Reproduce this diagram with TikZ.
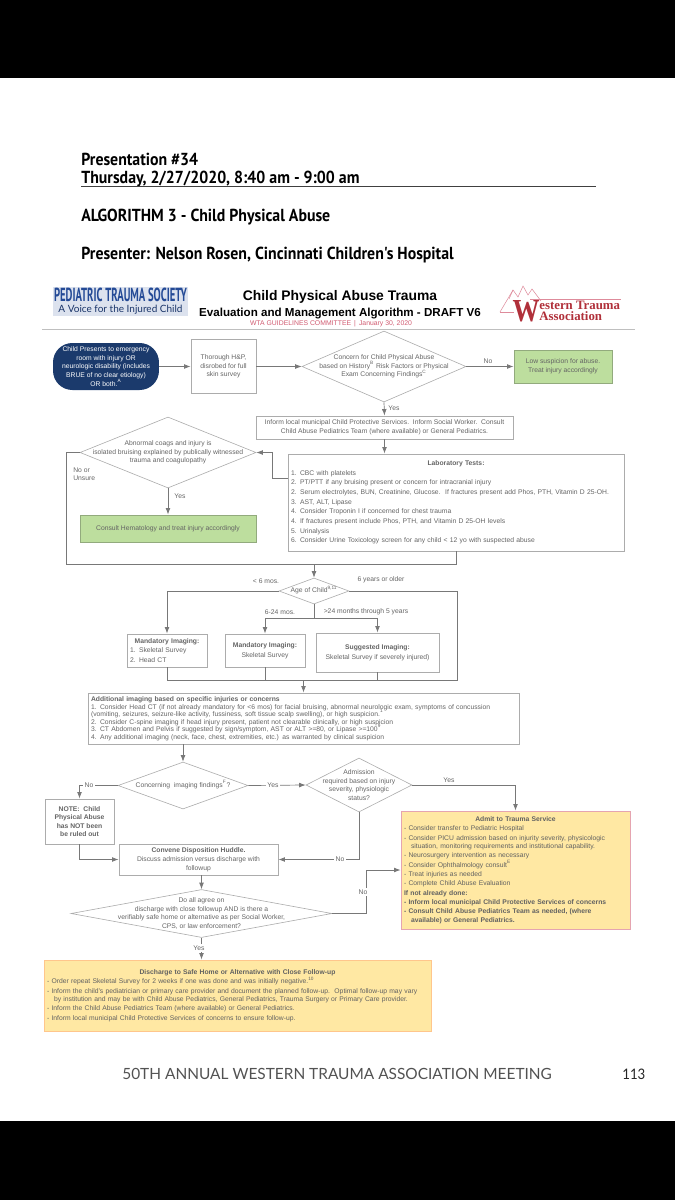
\documentclass[tikz,border=0pt]{standalone}
\usepackage{fontspec}
\setmainfont{Liberation Sans}
\newfontfamily\headfont[FakeStretch=0.91]{PT Sans}
\newfontfamily\footfont{Lato}
\newfontfamily\serieffont{Liberation Serif}
\usetikzlibrary{arrows.meta,shapes.geometric,shadows}
\definecolor{linegray}{RGB}{120,120,120}
\definecolor{framegray}{RGB}{172,172,172}
\definecolor{inkgray}{RGB}{100,100,100}
\definecolor{navyfill}{RGB}{27,58,108}
\definecolor{leaffill}{RGB}{189,222,158}
\definecolor{leafline}{RGB}{146,170,125}
\definecolor{sandfill}{RGB}{255,232,163}
\definecolor{wtared}{RGB}{176,48,58}
\definecolor{wtapink}{RGB}{208,90,112}
\definecolor{ptsblue}{RGB}{36,74,150}
\newcommand{\notemark}[1]{\smash{\textsuperscript{#1}}}
\tikzset{
  boxgray/.style={draw=framegray, line width=0.5pt, inner sep=0pt, text=inkgray, align=center},
  leftbox/.style={boxgray, align=left, inner xsep=0.06cm},
  diagray/.style={draw=framegray, line width=0.35pt, shape=diamond, inner sep=0pt},
  txtgray/.style={text=inkgray, inner sep=0pt, align=center},
  small/.style={font=\fontsize{3.85}{4.7}\selectfont},
  flag/.style={txtgray, font=\fontsize{3.85}{4.4}\selectfont},
  flagcut/.style={flag, fill=white, inner xsep=1pt, inner ysep=1pt},
  wire/.style={draw=linegray, line width=0.4pt},
  arrow/.style={wire, -{Latex[length=1.3mm, width=0.95mm]}},
  head/.style={anchor=base west, inner sep=0pt, font=\headfont\bfseries\fontsize{9.9}{11}\selectfont}
}
\begin{document}
\begin{tikzpicture}[x=0.02cm, y=-0.02cm]
  \useasboundingbox (0,0) rectangle (675,1200);
  \fill[black] (0,0) rectangle (675,78);
  \fill[black] (0,1121) rectangle (675,1200);

  % page heading
  \node[head] (session) at (81,165) {Presentation \#34};
  \node[head] (slot) at (81,183) {Thursday, 2/27/2020, 8:40 am - 9:00 am};
  \coordinate (ruleleft) at (81,186);
  \coordinate (ruleright) at (596,186);
  \draw[black!75, line width=0.5pt] (ruleleft) -- (ruleright);
  \node[head] (algo) at (81,221) {ALGORITHM 3 - Child Physical Abuse};
  \node[head] (speaker) at (81,259) {Presenter: Nelson Rosen, Cincinnati Children's Hospital};

  % logos and title
  \fill[ptsblue!16] (53,287) rectangle (188,316);
  \node[text=ptsblue, inner sep=0pt] (ptsname) at (120.5,295) {\resizebox{2.66cm}{0.27cm}{\headfont\bfseries PEDIATRIC TRAUMA SOCIETY}};
  \node[text=ptsblue!70!black, inner sep=0pt, font=\footfont\fontsize{5.7}{6}\selectfont] (ptsmotto) at (120.5,309.5) {A Voice for the Injured Child};

  \node[font=\bfseries\fontsize{7.9}{10}\selectfont, inner sep=0pt] (title) at (340,297) {Child Physical Abuse Trauma};
  \node[font=\bfseries\fontsize{6.6}{8}\selectfont, inner sep=0pt] (subtitle) at (340,314) {Evaluation and Management Algorithm - DRAFT V6};
  \node[font=\fontsize{3.9}{5}\selectfont, text=wtapink, inner sep=0pt] (committee) at (331,324) {WTA GUIDELINES COMMITTEE \,|\, January 30, 2020};

  \draw[wtapink!70, line width=0.3pt, line join=round] (500,312) -- (513,290) -- (518,297) -- (523,286) -- (528,295) -- (532,289) -- (541,301);
  \draw[wtapink!70, line width=0.3pt] (500,312) -- (514,312);
  \draw[wtapink!70, line width=0.3pt] (513,290) -- (509,299);
  \node[text=wtared, inner sep=0pt] (wtaw) at (526,311) {\resizebox{0.54cm}{0.42cm}{\serieffont\bfseries W}};
  \node[text=wtared, anchor=west, align=left, inner sep=0pt, font=\serieffont\bfseries\fontsize{7.3}{6.5}\selectfont] (wtaname) at (539,311)
    {estern Trauma\\ Association};
  \coordinate (wtaleft) at (530,299);
  \coordinate (wtaright) at (621,299);
  \draw[wtapink!70, line width=0.3pt] (wtaleft) -- (wtaright);

  \coordinate (topleft) at (42,329);
  \coordinate (topright) at (635,329);
  \draw[black!25, line width=0.5pt] (topleft) -- (topright);

  % first row
  \node[fill=navyfill, text=white, rounded corners=11pt, minimum width=2.12cm, minimum height=0.94cm, inner sep=0pt, align=center, small] (start) at (106,366.5)
    {Child Presents to emergency\\[0.2pt] room with injury OR\\[0.2pt] neurologic disability (includes\\[0.2pt] BRUE of no clear etiology)\\[0.2pt] OR both.\notemark{A}};
  \node[boxgray, minimum width=1.3cm, minimum height=1.08cm, small] (exam) at (223.5,366.5)
    {Thorough H\&P,\\[0.2pt] disrobed for full\\[0.2pt] skin survey};
  \node[diagray, minimum width=3.28cm, minimum height=1.42cm] (concern) at (384,366.5) {};
  \node[txtgray, small] (concerntext) at (concern) {Concern for Child Physical Abuse\\[0.2pt] based on History\notemark{B} Risk Factors or Physical\\[0.2pt] Exam Concerning Findings\notemark{C}};
  \node[boxgray, draw=leafline, fill=leaffill, minimum width=1.96cm, minimum height=0.66cm, small] (low) at (563,366.5)
    {Low suspicion for abuse.\\[0.2pt] Treat injury accordingly};
  \node[flag] (nolow) at (488,361) {No};
  \node[flag] (yesinform) at (394,408) {Yes};

  % family notice and laboratory work
  \node[boxgray, minimum width=5.14cm, minimum height=0.46cm, small] (inform) at (384.5,427.5)
    {Inform local municipal Child Protective Services.\ \ Inform Social Worker.\ \ Consult\\[0.2pt] Child Abuse Pediatrics Team (where available) or General Pediatrics.};
  \node[leftbox, minimum height=1.94cm, text width=6.6cm, font=\fontsize{3.85}{5.5}\selectfont] (labs) at (456,502.5)
    {\makebox[\linewidth][c]{\bfseries Laboratory Tests:}\\
     1. CBC with platelets\\
     2. PT/PTT if any bruising present or concern for intracranial injury\\
     2. Serum electrolytes, BUN, Creatinine, Glucose.\ \ If fractures present add Phos, PTH, Vitamin D 25-OH.\\
     3. AST, ALT, Lipase\\
     4. Consider Troponin I if concerned for chest trauma\\
     4. If fractures present include Phos, PTH, and Vitamin D 25-OH levels\\
     5. Urinalysis\\
     6. Consider Urine Toxicology screen for any child < 12 yo with suspected abuse};
  \node[diagray, minimum width=3.52cm, minimum height=1.42cm] (coags) at (168,452.5) {};
  \node[txtgray, small] (coagstext) at (coags) {Abnormal coags and injury is\\[0.2pt] isolated bruising explained by publically witnessed\\[0.2pt] trauma and coagulopathy};
  \node[boxgray, draw=leafline, fill=leaffill, minimum width=3.52cm, minimum height=0.54cm, small] (hema) at (168,528.5)
    {Consult Hematology and treat injury accordingly};
  \node[flag, align=left, anchor=west] (unsure) at (73,474.5) {No or\\Unsure};
  \node[flag] (yeshema) at (180,496) {Yes};

  % age split
  \node[diagray, minimum width=1.4cm, minimum height=0.52cm] (age) at (314,591) {};
  \node[txtgray, small] (agetext) at (age) {Age of Child\notemark{9,11}};
  \node[flag] (under) at (266,581) {< 6 mos.};
  \node[flag] (older) at (381,580) {6 years or older};
  \node[flag] (mid) at (280,612) {6-24 mos.};
  \node[flag] (upper) at (366,612) {>24 months through 5 years};
  \node[leftbox, minimum width=1.6cm, minimum height=0.66cm, text width=1.48cm, font=\fontsize{3.85}{5.5}\selectfont] (mand) at (167,650.5)
    {\makebox[\linewidth][c]{\bfseries Mandatory Imaging:}\\ 1. Skeletal Survey\\ 2. Head CT};
  \node[boxgray, minimum width=1.6cm, minimum height=0.66cm, font=\fontsize{3.85}{5.5}\selectfont] (mandtwo) at (265,650.5)
    {\textbf{Mandatory Imaging:}\\ Skeletal Survey};
  \node[boxgray, minimum width=2.46cm, minimum height=0.78cm, font=\fontsize{3.85}{5.5}\selectfont] (suggest) at (377.5,652.5)
    {\textbf{Suggested Imaging:}\\ Skeletal Survey if severely injured)};
  \node[leftbox, minimum height=1.02cm, text width=8.5cm, font=\fontsize{3.85}{4.27}\selectfont] (extra) at (303.5,718.5)
    {\textbf{Additional imaging based on specific injuries or concerns}\\
     1. Consider Head CT (if not already mandatory for <6 mos) for facial bruising, abnormal neurologic exam, symptoms of concussion\\
     (vomiting, seizures, seizure-like activity, fussiness, soft tissue scalp swelling), or high suspicion.\notemark{1}\\
     2. Consider C-spine imaging if head injury present, patient not clearable clinically, or high suspicion\\
     3. CT Abdomen and Pelvis if suggested by sign/symptom, AST or ALT >=80, or Lipase >=100\notemark{9}\\
     4. Any additional imaging (neck, face, chest, extremities, etc.) as warranted by clinical suspicion};

  % disposition
  \node[diagray, minimum width=2.6cm, minimum height=0.94cm] (findings) at (183,785.5) {};
  \node[txtgray, small] (findingstext) at (findings) {Concerning\ \ imaging findings\notemark{F}?};
  \node[diagray, minimum width=2.12cm, minimum height=1.08cm] (admission) at (359,785) {};
  \node[txtgray, small] (admissiontext) at (admission) {Admission\\[0.2pt] required based on injury\\[0.2pt] severity, physiologic\\[0.2pt] status?};
  \node[boxgray, minimum width=1.38cm, minimum height=0.9cm, font=\bfseries\fontsize{3.85}{4.8}\selectfont] (note) at (79.5,821.5)
    {NOTE:\ \ Child\\ Physical Abuse\\ has NOT been\\ be ruled out};
  \node[boxgray, minimum width=3.18cm, minimum height=0.62cm, small] (huddle) at (198.5,859.5)
    {\textbf{Convene Disposition Huddle.}\\[0.8pt] Discuss admission versus discharge with\\[0.2pt] followup};
  \node[diagray, minimum width=5.22cm, minimum height=0.96cm] (agree) at (201.5,913.5) {};
  \node[txtgray, small] (agreetext) at (agree) {Do all agree on\\[0.2pt] discharge with close followup AND is there a\\[0.2pt] verifiably safe home or alternative as per Social Worker,\\[0.2pt] CPS, or law enforcement?};
  \coordinate (agreebend) at (366,870);

  \node[leftbox, draw=wtapink!55, fill=sandfill, minimum height=2.36cm, text width=4.46cm, text=black!62, font=\fontsize{3.85}{4.8}\selectfont] (admit) at (515.5,870)
    {\makebox[\linewidth][c]{\bfseries Admit to Trauma Service}\\[0.5pt]
     - Consider transfer to Pediatric Hospital\\[0.5pt]
     - Consider PICU admission based on injurity severity, physicologic\\
     \hspace*{1.4mm}situation, monitoring requirements and institutional capability.\\[0.5pt]
     - Neurosurgery intervention as necessary\\[0.5pt]
     - Consider Ophthalmology consult\notemark{E}\\[0.5pt]
     - Treat injuries as needed\\[0.5pt]
     - Complete Child Abuse Evaluation\\[0.5pt]
     \textbf{If not already done:}\\[0.5pt]
     \textbf{- Inform local municipal Child Protective Services of concerns}\\[0.5pt]
     \textbf{- Consult Child Abuse Pediatrics Team as needed, (where}\\
     \hspace*{1.4mm}\textbf{available) or General Pediatrics.}};
  \node[leftbox, draw=orange!45, fill=sandfill, drop shadow={opacity=0.25, shadow xshift=0pt, shadow yshift=-0.6pt}, minimum height=1.42cm, text width=7.62cm, text=black!62, font=\fontsize{3.85}{4.8}\selectfont] (discharge) at (237.5,995.5)
    {\makebox[\linewidth][c]{\bfseries Discharge to Safe Home or Alternative with Close Follow-up}\\[0.6pt]
     - Order repeat Skeletal Survey for 2 weeks if one was done and was initially negative.\notemark{10}\\[0.6pt]
     - Inform the child's pediatrician or primary care provider and document the planned follow-up.\ \ Optimal follow-up may vary\\
     \hspace*{1.4mm}by institution and may be with Child Abuse Pediatrics, General Pediatrics, Trauma Surgery or Primary Care provider.\\[0.6pt]
     - Inform the Child Abuse Pediatrics Team (where available) or General Pediatrics.\\[0.6pt]
     - Inform local municipal Child Protective Services of concerns to ensure follow-up.};

  % connectors
  \draw[arrow] (start.east) -- (exam.west);
  \draw[arrow] (exam.east) -- (concern.west);
  \draw[arrow] (concern.east) -- (low.west);
  \draw[arrow] (concern.south) -- (inform.north);
  \draw[arrow] (inform.south) -- (inform.south |- labs.north);
  \coordinate (labsout) at (288,478);
  \coordinate (labsbend) at (272,478);
  \draw[arrow] (labsout) -- (labsbend) |- (coags.east);
  \draw[arrow] (coags.south) -- (hema.north);
  \coordinate (collectleft) at (66,564);
  \draw[wire] (coags.west) -| (collectleft) -| (labs.south);
  \draw[arrow] (age.north |- collectleft) -- (age.north);
  \draw[arrow] (age.west) -| (mand.north);
  \coordinate (fork) at (314,618);
  \draw[wire] (age.south) -- (fork);
  \draw[arrow] (fork) -| (mandtwo.north);
  \draw[arrow] (fork) -| (suggest.north);
  \coordinate (collectright) at (457,680);
  \draw[wire] (age.east) -| (collectright) -| (mand.south);
  \draw[wire] (mandtwo.south) -- (mandtwo.south |- collectright);
  \draw[wire] (suggest.south) -- (suggest.south |- collectright);
  \draw[arrow] (extra.north |- collectright) -- (extra.north);
  \draw[arrow] (findings.north |- extra.south) -- (findings.north);
  \draw[arrow] (findings.west) -| (note.north);
  \draw[arrow] (findings.east) -- (admission.west);
  \draw[arrow] (admission.east) -| (admit.north);
  \draw[arrow] (admission.south) |- (huddle.east);
  \draw[arrow] (note.south) |- (huddle.west);
  \draw[arrow] (agree.north |- huddle.south) -- (agree.north);
  \draw[arrow] (agree.east) -| (agreebend) -- (admit.west);
  \draw[arrow] (agree.south) -- (agree.south |- discharge.north);

  \node[flagcut] (nonote) at (89,785) {No};
  \node[flagcut] (yesadmission) at (273,785) {Yes};
  \node[flag] (yesadmit) at (449,780) {Yes};
  \node[flagcut] (nohuddle) at (340,859.5) {No};
  \node[flagcut] (noadmit) at (363,892) {No};
  \node[flagcut] (yesdischarge) at (199,948) {Yes};

  % page foot
  \node[font=\footfont\fontsize{8.78}{10}\selectfont, text=black!68, anchor=base west, inner sep=0pt] (meeting) at (122,1079) {50TH ANNUAL WESTERN TRAUMA ASSOCIATION MEETING};
  \node[text=black!85, anchor=base west, inner sep=0pt] (pageno) at (622,1079) {\resizebox{0.46cm}{0.21cm}{\footfont 113}};
\end{tikzpicture}
\end{document}
